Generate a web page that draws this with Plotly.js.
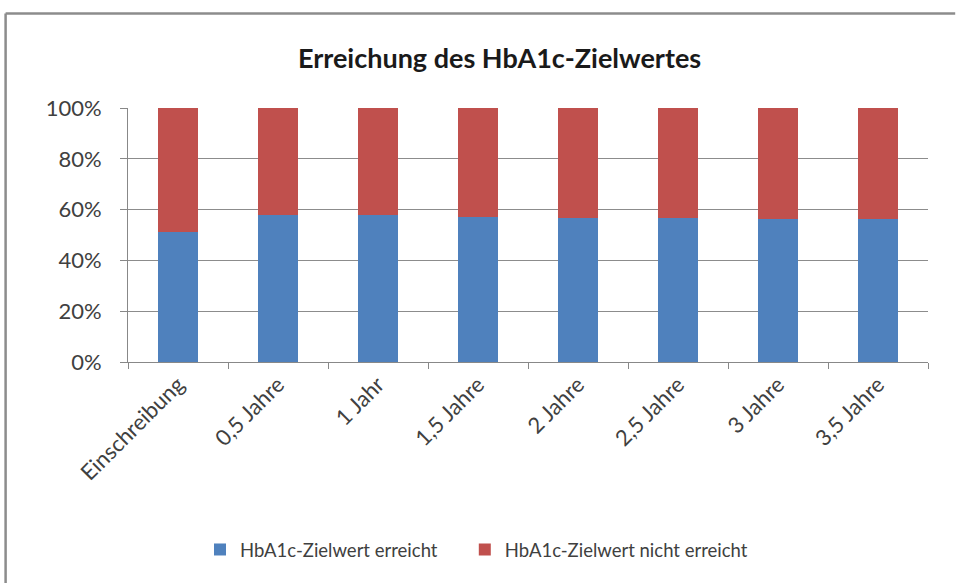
<!DOCTYPE html>
<html><head><meta charset="utf-8">
<script src="https://cdn.plot.ly/plotly-3.0.1.min.js"></script>
<style>html,body{margin:0;padding:0;background:#fff;overflow:hidden}#chart{width:957px;height:583px}</style>
</head><body><div id="chart"></div>
<script>
const categories = ["Einschreibung","0,5 Jahre","1 Jahr","1,5 Jahre","2 Jahre","2,5 Jahre","3 Jahre","3,5 Jahre"];
const erreicht = [51.3, 57.9, 57.9, 57.2, 56.8, 56.8, 56.2, 56.2];
const nichtErreicht = erreicht.map(v => 100 - v);
const yTickVals = [0,20,40,60,80,100];
const yTickText = ["0%","20%","40%","60%","80%","100%"];

const font = "Lato, 'Open Sans', sans-serif";
const traces = [
  {type:"bar", name:"HbA1c-Zielwert erreicht", x:categories, y:erreicht,
   marker:{color:"#4F81BD"}, hoverinfo:"skip", legend:"legend"},
  {type:"bar", name:"HbA1c-Zielwert nicht erreicht", x:categories, y:nichtErreicht,
   marker:{color:"#C0504D"}, hoverinfo:"skip", legend:"legend2"}
];
const legFont = {family:font, size:18.5, color:"#404040"};
const layout = {
  width:957, height:583,
  margin:{l:128, r:29, t:108, b:221},
  paper_bgcolor:"#fff", plot_bgcolor:"#fff",
  barmode:"stack", bargap:0.6,
  showlegend:true,
  title:{text:"<b>Erreichung des HbA1c-Zielwertes</b>", font:{family:font, size:27, color:"#1a1a1a"},
         x:0.522, xanchor:"center", y:0.9, yanchor:"middle"},
  xaxis:{type:"category", tickson:"boundaries", ticks:"outside", ticklen:6, tickcolor:"#888",
         showline:true, linecolor:"#888", linewidth:1, tickangle:-45,
         tickfont:{family:font, size:22, color:"#404040"}, showgrid:false, fixedrange:true},
  yaxis:{range:[0,100], tickvals:yTickVals, ticktext:yTickText, ticks:"outside", ticklen:7,
         tickcolor:"#888", showline:true, linecolor:"#888", linewidth:1, ticklabelstandoff:14,
         showgrid:true, gridcolor:"#8c8c8c", gridwidth:1, zeroline:false,
         tickfont:{family:font, size:22, color:"#404040"}, fixedrange:true},
  legend:{orientation:"h", x:0.09, xanchor:"left", y:-0.74, yanchor:"middle",
          font:legFont, itemwidth:30},
  legend2:{orientation:"h", x:0.421, xanchor:"left", y:-0.74, yanchor:"middle",
          font:legFont, itemwidth:30},
  shapes:[
    {type:"line", xref:"paper", yref:"paper", x0:-0.153, x1:-0.153, y0:-0.87, y1:1.372,
     line:{color:"#8c8c8c", width:2.5}, layer:"below"},
    {type:"line", xref:"paper", yref:"paper", x0:-0.153, x1:1.034, y0:1.372, y1:1.372,
     line:{color:"#8c8c8c", width:2.5}, layer:"below"}
  ]
};
Plotly.newPlot("chart", traces, layout, {displayModeBar:false, staticPlot:true});
</script></body></html>
